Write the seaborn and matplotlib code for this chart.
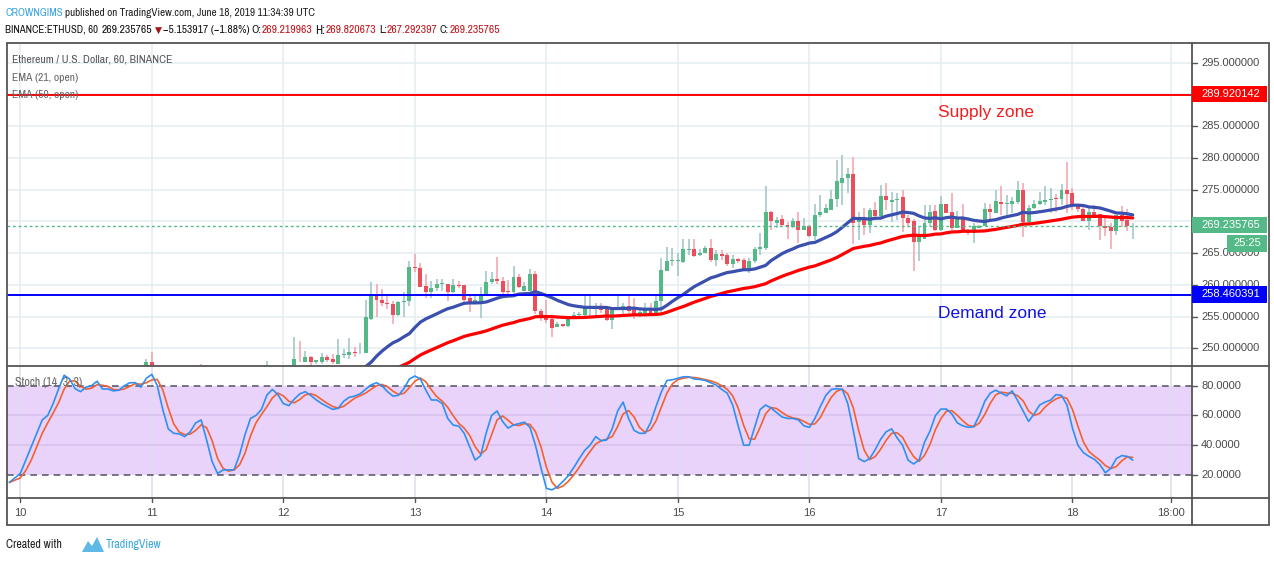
import numpy as np
import pandas as pd
import matplotlib
matplotlib.use("Agg")
import matplotlib.pyplot as plt
from matplotlib import font_manager
from matplotlib.patches import Rectangle, Polygon
from matplotlib.lines import Line2D
import seaborn as sns

# hourly candles, hours counted from 2019-06-10 00:00 UTC (first bar is June 9 22:00)
hours = list(range(-2, 204))

opens = [231.0, 232.0,
         233.0, 234.2, 235.5, 236.8, 238.0, 239.2, 240.0, 241.5, 242.8, 243.8, 243.2, 243.0,
         243.6, 244.2, 244.5, 245.2, 245.0, 245.3, 245.6, 246.0, 246.4, 246.6, 246.5, 246.8,
         247.85, 244.5, 243.5, 242.7, 242.5, 242.4, 242.2, 242.1, 242.7, 243.4, 243.1, 241.5,
         240.1, 239.9, 240.1, 240.0, 240.9, 241.9, 242.8, 243.3, 243.7, 244.1, 244.5, 244.3,
         244.0, 244.3, 244.6, 248.2, 247.9, 248.7, 247.9, 247.9, 248.7, 248.4, 247.6, 249.0,
         249.0, 249.5, 249.2, 249.3, 254.7, 258.4, 257.6, 257.2, 257.0, 255.3, 257.3, 257.4,
         262.8, 262.6, 259.8, 258.95, 259.5, 260.1, 260.1, 258.8, 260.0, 260.0, 257.9, 257.1,
         257.5, 258.4, 260.5, 261.0, 260.6, 259.1, 258.8, 261.3, 259.1, 259.1, 261.7, 255.9,
         254.9, 254.7, 253.4, 253.8, 253.6, 254.8, 255.3, 255.3, 256.4, 256.4, 256.6, 256.2,
         254.5, 256.3, 256.4, 256.7, 256.5, 255.1, 255.6, 256.3, 255.6, 257.4, 262.2, 263.7,
         263.8, 263.6, 265.5, 265.7, 264.7, 265.1, 265.8, 263.9, 264.8, 264.7, 263.3, 264.0,
         263.9, 262.3, 263.7, 265.6, 265.8, 271.5, 269.8, 270.4, 269.5, 269.1, 270.1, 268.7,
         269.3, 267.7, 271.0, 271.4, 271.8, 273.5, 276.1, 276.8, 277.5, 269.95, 270.5, 269.4,
         271.8, 270.8, 274.0, 273.1, 273.3, 273.8, 270.6, 270.1, 266.8, 267.3, 269.7, 271.6,
         268.6, 272.7, 271.5, 269.0, 270.6, 268.7, 268.1, 269.0, 269.3, 271.9, 271.4, 273.1,
         272.8, 272.7, 273.0, 275.0, 269.9, 272.1, 272.7, 273.0, 273.3, 273.6, 273.5, 275.0,
         274.4, 272.7, 271.9, 270.1, 271.5, 271.2, 269.3, 269.1, 268.5, 271.0, 270.2, 269.22]

highs = [232.5, 233.5,
         234.8, 236.0, 237.2, 238.5, 239.8, 240.5, 242.0, 243.2, 244.5, 244.6, 244.0, 244.2,
         244.8, 245.0, 245.6, 245.8, 245.7, 246.0, 246.4, 246.8, 247.0, 247.0, 247.1, 248.3,
         249.5, 247.4, 244.0, 243.4, 243.3, 243.0, 242.8, 243.1, 243.9, 247.6, 247.4, 242.0,
         240.8, 240.7, 240.9, 241.3, 242.2, 243.1, 243.7, 244.1, 244.4, 248.0, 244.6, 244.5,
         244.6, 244.9, 251.8, 251.2, 249.6, 248.8, 248.2, 249.3, 249.0, 249.1, 251.5, 249.9,
         251.6, 250.2, 250.9, 257.6, 260.5, 260.1, 259.3, 258.5, 257.5, 257.5, 258.9, 263.8,
         264.9, 263.5, 261.7, 260.6, 261.0, 261.0, 260.2, 260.9, 260.6, 260.0, 258.5, 258.3,
         259.6, 262.2, 262.0, 264.4, 261.2, 260.7, 263.0, 261.7, 260.5, 262.5, 262.2, 256.2,
         257.6, 255.1, 254.1, 253.9, 255.0, 255.7, 255.7, 258.3, 258.3, 257.2, 257.2, 256.7,
         256.4, 258.3, 257.1, 258.3, 257.9, 256.2, 257.1, 257.1, 258.2, 264.2, 265.9, 265.8,
         265.0, 267.2, 267.3, 267.2, 265.7, 266.1, 267.2, 265.5, 265.5, 265.1, 264.7, 264.3,
         264.3, 264.3, 265.9, 268.2, 275.5, 271.6, 270.7, 271.0, 269.9, 270.5, 271.5, 270.5,
         269.4, 272.8, 274.2, 272.8, 274.9, 279.7, 280.5, 278.4, 280.2, 271.5, 272.1, 272.1,
         273.1, 275.7, 276.1, 274.7, 274.4, 275.0, 271.0, 270.3, 269.2, 272.6, 272.6, 272.6,
         274.0, 272.8, 274.4, 271.7, 272.7, 268.8, 269.7, 269.4, 272.9, 272.7, 274.9, 275.6,
         274.2, 273.9, 276.3, 276.1, 272.6, 273.4, 274.6, 275.6, 275.2, 274.3, 275.9, 279.4,
         275.2, 272.7, 272.3, 272.1, 272.6, 271.2, 270.5, 269.7, 271.0, 272.4, 271.9, 269.82]

lows = [229.5, 231.2,
        232.5, 233.8, 235.0, 236.2, 237.4, 238.6, 239.6, 241.0, 242.2, 242.6, 242.5, 242.6,
        243.2, 243.6, 244.0, 244.4, 244.5, 244.8, 245.0, 245.5, 245.9, 246.0, 245.8, 246.5,
        244.1, 243.1, 242.3, 242.0, 241.8, 241.7, 241.5, 241.7, 242.4, 242.8, 241.1, 239.7,
        239.0, 239.3, 239.4, 239.5, 240.5, 241.5, 242.4, 242.8, 243.2, 243.7, 243.8, 243.5,
        243.6, 244.0, 244.3, 247.8, 247.8, 246.8, 247.5, 247.5, 247.9, 247.6, 247.5, 248.5,
        248.3, 248.7, 249.1, 249.2, 254.5, 255.0, 256.7, 256.2, 253.8, 255.1, 255.0, 256.6,
        262.0, 259.6, 258.0, 257.9, 259.0, 259.0, 257.5, 258.7, 259.5, 257.0, 255.7, 257.0,
        254.8, 258.3, 260.1, 260.1, 258.4, 258.2, 258.4, 259.5, 259.0, 259.1, 255.4, 254.3,
        254.0, 251.8, 253.3, 253.4, 253.4, 254.6, 254.7, 254.9, 254.9, 254.8, 255.6, 254.3,
        253.1, 256.2, 255.1, 255.6, 254.7, 254.9, 255.2, 255.1, 255.2, 255.4, 262.2, 262.9,
        261.4, 263.5, 264.7, 264.4, 264.5, 265.0, 263.6, 262.9, 263.9, 263.0, 262.6, 263.4,
        262.2, 261.9, 263.5, 264.7, 265.5, 268.7, 268.9, 269.1, 267.2, 268.9, 266.6, 268.6,
        267.6, 267.0, 270.7, 271.4, 271.8, 272.3, 272.6, 274.4, 266.5, 267.1, 267.9, 268.2,
        270.6, 270.7, 271.8, 269.9, 270.2, 268.4, 269.1, 262.2, 263.8, 267.2, 269.3, 268.5,
        268.5, 271.3, 268.6, 268.9, 268.5, 267.8, 266.6, 268.9, 269.2, 270.2, 271.3, 271.0,
        271.0, 271.3, 272.8, 267.5, 269.8, 272.0, 272.6, 272.6, 271.3, 271.5, 272.6, 271.3,
        271.8, 271.5, 270.0, 268.6, 270.6, 267.1, 267.7, 265.7, 267.9, 269.1, 268.5, 267.29]

closes = [232.0, 233.0,
          234.2, 235.5, 236.8, 238.0, 239.2, 240.0, 241.5, 242.8, 243.8, 243.2, 243.0, 243.6,
          244.2, 244.5, 245.2, 245.0, 245.3, 245.6, 246.0, 246.4, 246.6, 246.5, 246.8, 247.85,
          244.5, 243.5, 242.7, 242.5, 242.4, 242.2, 242.1, 242.7, 243.4, 243.1, 241.5, 240.1,
          239.9, 240.1, 240.0, 240.9, 241.9, 242.8, 243.3, 243.7, 244.1, 244.5, 244.3, 244.0,
          244.3, 244.6, 248.4, 248.1, 248.6, 247.8, 248.1, 248.7, 248.2, 247.8, 249.0, 249.05,
          249.5, 249.2, 249.3, 255.0, 258.4, 257.6, 257.1, 257.0, 255.3, 257.3, 257.5, 262.8,
          262.6, 259.7, 258.95, 259.5, 260.1, 260.2, 258.8, 260.0, 259.75, 257.6, 257.2, 257.6,
          258.4, 260.5, 261.0, 260.6, 258.8, 258.8, 261.2, 259.6, 259.75, 261.7, 255.9, 254.9,
          254.4, 253.2, 253.8, 253.6, 254.8, 255.3, 255.35, 256.5, 256.5, 256.6, 256.1, 254.5,
          256.3, 256.5, 256.7, 255.9, 255.1, 255.8, 256.4, 255.5, 257.5, 262.3, 263.8, 263.9,
          263.9, 265.6, 265.6, 264.5, 265.1, 265.8, 263.9, 264.8, 264.5, 263.3, 264.0, 263.8,
          262.3, 263.8, 265.6, 266.0, 271.5, 270.0, 270.2, 269.4, 269.1, 270.1, 268.7, 269.3,
          267.7, 271.0, 271.5, 272.1, 273.5, 276.3, 276.8, 277.5, 269.8, 270.6, 269.4, 271.8,
          270.9, 274.0, 273.3, 273.4, 273.6, 270.6, 269.8, 266.8, 267.6, 269.8, 271.5, 268.6,
          272.8, 271.4, 268.9, 270.6, 268.6, 268.1, 269.3, 269.3, 271.9, 271.5, 273.2, 272.7,
          272.9, 273.2, 275.0, 269.9, 272.1, 272.7, 273.2, 273.4, 273.6, 273.5, 274.9, 274.3,
          272.6, 271.9, 270.1, 271.5, 271.0, 269.2, 269.0, 268.5, 271.0, 270.1, 269.2, 269.24]

stoch_k = [15, 18,
           21, 30, 39, 48, 57, 60, 68, 78, 87, 84.5, 78, 76, 79, 80, 83, 77.8, 77.8, 76.5,
           77, 80, 82, 82, 79, 85,
           87.6, 80, 64, 51, 48, 47.6, 45.8, 49, 55, 57, 43.5, 29, 21, 23.4, 23.4, 23.4,
           33.5, 47, 58, 60, 64, 73.7, 77.5, 74,
           68, 66.6, 71, 74.5, 76, 73.5, 70.5, 68, 66, 64.1, 64.8, 69.5, 72.2, 73, 74.5,
           77.5, 80.5, 82, 80, 76, 73, 73.5, 78, 84.5,
           86.5, 84.5, 77, 70.4, 70.4, 68, 58, 53.5, 52.9, 48, 39, 30, 33, 48, 60, 63, 56,
           51.5, 53.6, 54.5, 55.5, 52, 40, 25,
           11, 10, 12, 15.6, 19.5, 25, 31, 36.5, 40.2, 45.8, 43, 43.5, 51, 63, 69, 58, 50,
           48, 48, 55, 66, 76, 83.5, 84,
           85, 86, 86, 84.5, 84.2, 83.5, 82, 80.4, 77.5, 75, 67, 53, 40, 40, 52, 64, 67,
           65, 62, 59, 58, 58, 57, 53,
           52, 58, 66, 73.5, 77.5, 78, 77.5, 68, 50, 31, 29, 31, 37, 44, 49, 51, 45, 40,
           30, 27.4, 30, 42, 49.5, 60,
           64.3, 64.3, 61, 55, 53, 52, 52.5, 60, 69.5, 75, 77, 75, 73.2, 76.5, 70, 63, 56,
           61, 67, 69, 70.3, 74, 73.5, 67,
           51.5, 40, 35, 32.5, 30.5, 27, 21.5, 24.5, 31, 33, 32.5, 30]

supply_level = 289.920142
demand_level = 258.460391
last_price = 269.235765

# 290 and 270 sit under the red and green price tags, so only these show
price_ticks = [295, 285, 280, 275, 265, 260, 255, 250]
stoch_ticks = [80, 60, 40, 20]
day_hours = [0, 24, 48, 72, 96, 120, 144, 168, 192, 210]
day_labels = ["10", "11", "12", "13", "14", "15", "16", "17", "18", "18:00"]

df = pd.DataFrame({"hour": hours, "open": opens, "high": highs,
                   "low": lows, "close": closes, "k": stoch_k})
df["ema21"] = df["open"].ewm(span=21, adjust=False).mean()
df["ema50"] = df["open"].ewm(span=50, adjust=False).mean()
df["d"] = df["k"].rolling(3, min_periods=1).mean()

sns.set_style("white")
regular = ["Liberation Sans", "DejaVu Sans"]
# a narrow face if one is installed, otherwise fall back to Liberation Sans
narrow = regular
for f in font_manager.fontManager.ttflist:
    if ("Narrow" in f.name or "Condensed" in f.name) and "Mono" not in f.name \
            and "Serif" not in f.name:
        narrow = [f.name, "DejaVu Sans"]
        break

W, H = 1274, 562
fig = plt.figure(figsize=(W / 100, H / 100), dpi=100)
renderer = fig.canvas.get_renderer()


def fx(x):
    return x / W


def fy(y):
    return 1 - y / H


def fit_text(x, y, s, width, size, **kw):
    # shrink the font until the string spans no more than `width` pixels
    t = fig.text(fx(x), fy(y), s, fontsize=size, va="center", **kw)
    w = t.get_window_extent(renderer).width
    if w > width:
        t.set_fontsize(size * width / w)
    return t


LEFT, RIGHT = 7, 1192
x0 = (LEFT - 20.3) / 5.48
x1 = (RIGHT - 20.3) / 5.48

ax = fig.add_axes([fx(LEFT), fy(366), (RIGHT - LEFT) / W, (366 - 43) / H])
ax2 = fig.add_axes([fx(LEFT), fy(498), (RIGHT - LEFT) / W, (498 - 366) / H])

# price pane
grid_c = "#e3edf3"
for p in range(250, 300, 5):
    ax.axhline(p, color=grid_c, lw=1.1, zorder=0)
for h in day_hours:
    ax.axvline(h, color=grid_c, lw=1.1, zorder=0)

green, red = "#53b987", "#eb4d5c"
up = df["close"] >= df["open"]
for mask, body_c, wick_c in [(up, green, "#9cc3c6"), (~up, red, "#f3a1aa")]:
    d = df[mask]
    ax.vlines(d["hour"], d["low"], d["high"], color=wick_c, lw=1.1, zorder=2)
    height = (d["close"] - d["open"]).abs().clip(lower=0.12)
    bottom = d[["open", "close"]].min(axis=1)
    ax.bar(d["hour"], height, bottom=bottom, width=0.72, color=body_c,
           linewidth=0, zorder=3)

sns.lineplot(data=df, x="hour", y="ema50", ax=ax, color="#ff0000", lw=2.3, zorder=4)
sns.lineplot(data=df, x="hour", y="ema21", ax=ax, color="#3a4fae", lw=2.3, zorder=4)

ax.axhline(supply_level, color="#ff0000", lw=1.4, zorder=5)
ax.axhline(demand_level, color="#0000ff", lw=1.4, zorder=5)
ax.axhline(last_price, color=green, lw=1, ls=(0, (2, 2)), zorder=5)

ax.set_xlim(x0, x1)
ax.set_ylim(295 - (366 - 62.7) / 6.348, 295 + (62.7 - 43) / 6.348)

fig.text(fx(938), fy(113), "Supply zone", color="#f21d1d", fontsize=12.5,
         family=regular, va="center")
fig.text(fx(938), fy(314), "Demand zone", color="#1212e0", fontsize=12.5,
         family=regular, va="center")

# stochastic pane
ax2.axhspan(20, 80, color="#e9d3fb", zorder=0, lw=0)
for h in day_hours:
    ax2.axvline(h, color="#dcdcef", lw=1.1, zorder=0)
for s in [40, 60]:
    ax2.axhline(s, color="#d6c2ee", lw=1.1, zorder=1)
for s in [20, 80]:
    ax2.axhline(s, color="#5e5e6e", lw=1.2, ls=(0, (4, 3)), zorder=2)
sns.lineplot(data=df, x="hour", y="d", ax=ax2, color="#f4612f", lw=1.2, zorder=3)
sns.lineplot(data=df, x="hour", y="k", ax=ax2, color="#2f8ff2", lw=1.2, zorder=4)
ax2.set_xlim(x0, x1)
ax2.set_ylim(80 - (498 - 385.7) / 1.488, 80 + (385.7 - 366) / 1.488)

for a in (ax, ax2):
    a.set_xlabel("")
    a.set_ylabel("")
    a.set_xticks([])
    a.set_yticks([])
    for sp in a.spines.values():
        sp.set_visible(False)

# frame lines
frame_c = "#555555"


def hline(y, xa, xb, lw=1.3):
    fig.add_artist(Line2D([fx(xa), fx(xb)], [fy(y), fy(y)], color=frame_c, lw=lw))


def vline(x, ya, yb, lw=1.3):
    fig.add_artist(Line2D([fx(x), fx(x)], [fy(ya), fy(yb)], color=frame_c, lw=lw))


hline(43, LEFT, 1269)
hline(366, LEFT, 1269)
hline(498, LEFT, 1269)
hline(525, LEFT, 1269)
vline(LEFT, 43, 525)
vline(RIGHT, 43, 525)
vline(1269, 43, 525)

# price axis labels
txt_c = "#4a4a4a"
for p in price_ticks:
    y = 62.7 + (295 - p) * 6.348
    fig.add_artist(Line2D([fx(RIGHT), fx(RIGHT + 5)], [fy(y), fy(y)], color=frame_c, lw=1))
    fig.text(fx(1201), fy(y), f"{p:.6f}", color=txt_c, fontsize=8, family=regular,
             va="center", zorder=3)
for s in stoch_ticks:
    y = 385.7 + (80 - s) * 1.488
    fig.add_artist(Line2D([fx(RIGHT), fx(RIGHT + 5)], [fy(y), fy(y)], color=frame_c, lw=1))
    fig.text(fx(1201), fy(y), f"{s:.4f}", color=txt_c, fontsize=8, family=regular,
             va="center", zorder=3)


def tag(y_top, y_bot, xa, xb, color, text, xt, ha="left"):
    fig.add_artist(Rectangle((fx(xa), fy(y_bot)), (xb - xa) / W, (y_bot - y_top) / H,
                             transform=fig.transFigure, color=color, lw=0, zorder=4))
    fig.text(fx(xt), fy((y_top + y_bot) / 2), text, color="white", fontsize=8,
             family=regular, va="center", ha=ha, zorder=5)


tag(85.7, 102.3, RIGHT, 1267, "#ff0000", f"{supply_level:.6f}", 1201)
tag(216.7, 233.3, RIGHT, 1267, green, f"{last_price:.6f}", 1201)
tag(235.0, 251.7, 1227, 1267, green, "25:25", 1247, ha="center")
tag(286.0, 302.7, RIGHT, 1267, "#0000ff", f"{demand_level:.6f}", 1201)

# time axis
for h, lab in zip(day_hours, day_labels):
    x = 20.3 + 5.48 * h
    fig.add_artist(Line2D([fx(x), fx(x)], [fy(498), fy(502)], color=frame_c, lw=1))
    fig.text(fx(x), fy(513), lab, color=txt_c, fontsize=8, family=regular,
             ha="center", va="center")

# pane legends
fit_text(12, 60, "Ethereum / U.S. Dollar, 60, BINANCE", 160, 8.6, color="#555555",
         family=narrow)
fit_text(12, 78, "EMA (21, open)", 66, 8.6, color="#666666", family=narrow)
fit_text(12, 95, "EMA (50, open)", 66, 8.6, color="#666666", family=narrow)
fit_text(15, 383, "Stoch (14, 3, 3)", 86, 8.6, color="#666666", family=narrow)

# header
fit_text(5, 13, "CROWNGIMS", 58, 8.6, color="#3aa3e0", family=narrow)
fit_text(65, 13, "published on TradingView.com, June 18, 2019 11:34:39 UTC", 252, 8.6,
         color="#222222", family=narrow)
dark_red = "#c0161c"
segments = [(5, "BINANCE:ETHUSD, 60", 93, "#111111", "bold"),
            (102, "269.235765", 51, "#111111", "normal"),
            (155, "\u25bc", 7, "#a0141a", "normal"),
            (163, "\u22125.153917 (\u22121.88%)", 86, "#111111", "normal"),
            (251, "O:", 10, "#111111", "bold"),
            (262, "269.219963", 51, dark_red, "normal"),
            (315, "H:", 10, "#111111", "bold"),
            (326, "269.820673", 51, dark_red, "normal"),
            (379, "L:", 8, "#111111", "bold"),
            (387, "267.292397", 51, dark_red, "normal"),
            (440, "C:", 9, "#111111", "bold"),
            (450, "269.235765", 51, dark_red, "normal")]
for x, s, w, c, wt in segments:
    fit_text(x, 30, s, w, 8.6, color=c, family=narrow, weight=wt)

# footer
fit_text(6, 545, "Created with", 74, 8.6, color="#222222", family=narrow)
logo = [(82, 552), (88, 541), (92, 546), (97, 537), (104, 552)]
fig.add_artist(Polygon([(fx(a), fy(b)) for a, b in logo], closed=True,
                       transform=fig.transFigure, color="#5fb9e6", lw=0))
fit_text(106, 545, "TradingView", 72, 8.6, color="#3aa6dc", family=narrow)

fig.savefig("out.png", dpi=100)
